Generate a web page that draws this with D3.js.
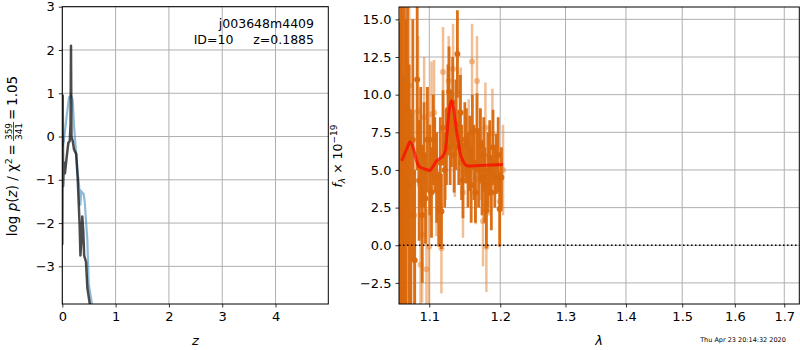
<!DOCTYPE html>
<html>
<head>
<meta charset="utf-8">
<script src="https://cdn.jsdelivr.net/npm/d3@7"></script>
<style>
  body { margin: 0; background: white; }
  svg text { font-family: "DejaVu Sans", sans-serif; fill: #000; }
</style>
</head>
<body>
<div id="chart"></div>
<script>
// p(z) panel
const pzGrid = [0.0, 0.008, 0.015, 0.03, 0.05, 0.08, 0.113, 0.14, 0.155, 0.163, 0.172, 0.195, 0.22, 0.26, 0.288, 0.325, 0.34, 0.357, 0.375, 0.394, 0.41, 0.445, 0.47, 0.52];
const pzChi = [-2.5, 0.95, -1.15, -0.6, -0.85, -0.5, -0.15, -0.1, 0.3, 2.1, 0.0, -0.1, -0.3, -0.4, -0.95, -2.05, -2.75, -2.4, -1.85, -2.2, -2.75, -2.9, -3.5, -3.9];
const pzBlueZ = [0.0, 0.03, 0.08, 0.125, 0.163, 0.195, 0.22, 0.245, 0.29, 0.313, 0.338, 0.356, 0.4, 0.42, 0.445, 0.47, 0.495, 0.56];
const pzBlue = [-0.25, -0.1, 0.45, 0.9, 0.95, 0.85, 0.25, -0.15, -0.85, -1.1, -1.6, -1.27, -1.33, -1.5, -1.95, -2.4, -3.4, -3.9];
const zTicks = [0, 1, 2, 3, 4];
const logpTicks = [-3, -2, -1, 0, 1, 2, 3];

// spectrum panel: dark series
const darkLam = [1.0612, 1.0625, 1.0640, 1.0654, 1.0670, 1.0690, 1.0710, 1.0732, 1.0755, 1.0780, 1.0805, 1.0838, 1.0864, 1.0885, 1.0905, 1.0930, 1.0949, 1.0975, 1.1007, 1.1030, 1.1055, 1.1074, 1.1100, 1.1128, 1.1150, 1.1165, 1.1187, 1.1210, 1.1234, 1.1255, 1.1270, 1.1285, 1.1303, 1.1320, 1.1340, 1.1365, 1.1386, 1.1405, 1.1428, 1.1445, 1.1464, 1.1490, 1.1512, 1.1535, 1.1559, 1.1580, 1.1597, 1.1620, 1.1640, 1.1663, 1.1685, 1.1711, 1.1735, 1.1760, 1.1774, 1.1798, 1.1820, 1.1846, 1.1870, 1.1894, 1.1920, 1.1943, 1.1970, 1.1992, 1.2017];
const darkFlux = [0.8, 5.0, 4.5, 0.3, 6.0, 3.0, 9.0, 4.0, 2.0, 7.0, -1.0, 11.0, 4.3, 6.5, 2.0, 6.0, 3.1, 7.0, 5.0, 3.5, 7.0, 6.0, 4.5, 2.4, 5.5, 2.25, 7.8, 5.0, 6.5, 9.0, 10.2, 6.5, 7.7, 9.5, 6.0, 8.0, 12.7, 6.5, 8.8, 5.5, 4.3, 7.0, 6.6, 5.0, 6.1, 4.0, 7.5, 5.5, 3.5, 7.6, 5.0, 6.6, 4.5, 6.0, 4.0, 2.3, 5.0, 5.8, 3.5, 6.5, 4.5, 5.4, 6.0, 2.4, 4.5];
const darkErr = [14, 12, 13, 11, 10, 12, 9, 8, 7, 8, 6, 6, 4, 4, 4.5, 3.5, 3, 3.5, 3, 3, 3, 2.5, 3, 2.5, 3, 2.5, 2.5, 2.5, 2.5, 3, 3, 2.5, 2.5, 3, 2.5, 3, 2.9, 2.5, 2.5, 2.5, 2.5, 2.5, 2.5, 2.5, 2.5, 2.5, 2.5, 2.5, 2, 2.5, 2.5, 2.5, 2.5, 2.5, 2.5, 2.5, 2.5, 2.5, 2.5, 2.5, 2, 2, 2.5, 2.5, 2];

// spectrum panel: light series
const lightLam = [1.0625, 1.0660, 1.0700, 1.0732, 1.0800, 1.0851, 1.0883, 1.0904, 1.0931, 1.0962, 1.0997, 1.1030, 1.1065, 1.1097, 1.1165, 1.1187, 1.1224, 1.1265, 1.1325, 1.1349, 1.1386, 1.1432, 1.1464, 1.1545, 1.1592, 1.1644, 1.1663, 1.1716, 1.1749, 1.1784, 1.1798, 1.1836, 1.1885, 1.1992, 1.2041];
const lightFlux = [-3.0, -3.0, 3.0, 10.6, 2.0, 8.9, -1.3, 0.7, 8.5, -1.6, -0.1, 8.7, 8.8, 3.6, -0.2, 11.5, 6.0, 10.9, 11.7, 6.2, 10.1, 8.8, 3.5, 6.7, 12.2, 4.4, 10.9, 6.0, 1.6, 7.8, -0.1, 5.0, 7.4, 2.9, 5.0];
const lightErr = [10, 9, 8, 6, 7, 5, 4, 4.5, 4, 4, 4, 3.5, 3.5, 3, 3, 3, 3, 3, 3, 3, 3, 3, 3, 3, 2.5, 3, 3, 3, 3, 3, 3, 3, 3, 2.5, 3];

// template model
const modelLam = [1.0634, 1.0700, 1.0742, 1.0790, 1.0830, 1.0870, 1.0917, 1.1007, 1.1060, 1.1097, 1.1179, 1.1220, 1.1242, 1.1270, 1.1303, 1.1330, 1.1349, 1.1394, 1.1430, 1.1464, 1.1535, 1.1701, 1.2041];
const modelFlux = [5.6, 6.4, 6.85, 6.4, 5.6, 5.2, 5.1, 4.97, 5.3, 5.6, 5.9, 6.3, 7.4, 8.9, 9.6, 9.2, 8.5, 7.0, 6.0, 5.6, 5.26, 5.3, 5.37];

const lamTicks = [1.1, 1.2, 1.3, 1.4, 1.5, 1.6, 1.7];
const fluxTicks = [-2.5, 0, 2.5, 5, 7.5, 10, 12.5, 15];

const W = 800, H = 350;
const svg = d3.select("#chart").append("svg").attr("width", W).attr("height", H);
const fmtMinus = s => s.replace("-", "\u2212");

const setupPanel = (box, x, y, xTicks, yTicks, xFmt, yFmt, id) => {
    const g = svg.append("g");
    g.append("clipPath").attr("id", id).append("rect")
        .attr("x", box.l).attr("y", box.t).attr("width", box.r - box.l).attr("height", box.b - box.t);

    // grid
    g.selectAll(".vg").data(xTicks).join("line")
        .attr("x1", d => x(d)).attr("x2", d => x(d)).attr("y1", box.t).attr("y2", box.b)
        .attr("stroke", "#b0b0b0").attr("stroke-width", 1);
    g.selectAll(".hg").data(yTicks).join("line")
        .attr("x1", box.l).attr("x2", box.r).attr("y1", d => y(d)).attr("y2", d => y(d))
        .attr("stroke", "#b0b0b0").attr("stroke-width", 1);

    const xAxisGroup = svg.append("g").attr("class", "axis")
        .attr("transform", `translate(0,${box.b})`)
        .call(d3.axisBottom(x).tickValues(xTicks).tickFormat(xFmt).tickSize(3.5).tickPadding(4));
    const yAxisGroup = svg.append("g").attr("class", "axis")
        .attr("transform", `translate(${box.l},0)`)
        .call(d3.axisLeft(y).tickValues(yTicks).tickFormat(yFmt).tickSize(3.5).tickPadding(4));
    [xAxisGroup, yAxisGroup].forEach(a => {
        a.select(".domain").remove();
        a.selectAll("line").attr("stroke", "black").attr("stroke-width", 0.8);
        a.selectAll("text").style("font-size", "13px").style("font-family", "DejaVu Sans").attr("fill", "black");
    });
    return g.append("g").attr("clip-path", `url(#${id})`);
};

const drawFrame = box => {
    svg.append("rect").attr("x", box.l).attr("y", box.t)
        .attr("width", box.r - box.l).attr("height", box.b - box.t)
        .attr("fill", "none").attr("stroke", "black").attr("stroke-width", 1);
};

// ---------- left panel ----------
const boxL = { l: 62.3, r: 328.3, t: 6.7, b: 304 };
const xz = d3.scaleLinear().domain([0, 4.99]).range([boxL.l, boxL.r]);
const yp = d3.scaleLinear().domain([-3.87, 3]).range([boxL.b, boxL.t]);
const plotL = setupPanel(boxL, xz, yp, zTicks, logpTicks, d => String(d), d => fmtMinus(String(d)), "clipL");

const lineZ = d3.line().x(d => xz(d[0])).y(d => yp(d[1]));
plotL.append("path").datum(pzBlueZ.map((z, i) => [z, pzBlue[i]]))
    .attr("fill", "none").attr("stroke", "#1f77b4").attr("stroke-opacity", 0.5)
    .attr("stroke-width", 2.2).attr("d", lineZ);
plotL.append("path").datum(pzGrid.map((z, i) => [z, pzChi[i]]))
    .attr("fill", "none").attr("stroke", "black").attr("stroke-opacity", 0.7)
    .attr("stroke-width", 2.5).attr("stroke-linejoin", "round").attr("d", lineZ);
drawFrame(boxL);

svg.append("text").attr("x", 314).attr("y", 28).attr("text-anchor", "end")
    .style("font-size", "12.5px").text("j003648m4409");
svg.append("text").attr("x", 314).attr("y", 44).attr("text-anchor", "end")
    .style("font-size", "12.5px").attr("xml:space", "preserve").text("ID=10     z=0.1885");

svg.append("text").attr("x", (boxL.l + boxL.r) / 2).attr("y", 345).attr("text-anchor", "middle")
    .style("font-size", "13px").style("font-style", "italic").text("z");

// rotated y label with a fraction
const yl = svg.append("g").attr("transform", "translate(17,156) rotate(-90)");
const p1 = yl.append("text").attr("x", 0).attr("y", 0).style("font-size", "13.5px");
p1.append("tspan").text("log ");
p1.append("tspan").style("font-style", "italic").text("p");
p1.append("tspan").text("(");
p1.append("tspan").style("font-style", "italic").text("z");
p1.append("tspan").text(") / \u03c7");
p1.append("tspan").attr("dy", -5).style("font-size", "9.5px").text("2");
p1.append("tspan").attr("dy", 5).text("\u2009=");
const w1 = p1.node().getComputedTextLength() + 3;
const num = yl.append("text").attr("y", -5).attr("text-anchor", "middle").style("font-size", "9px").text("359");
const den = yl.append("text").attr("y", 5).attr("text-anchor", "middle").style("font-size", "9px").text("341");
const wf = Math.max(num.node().getComputedTextLength(), den.node().getComputedTextLength()) + 2;
const p3 = yl.append("text").attr("y", 0).style("font-size", "13.5px").text("=\u20091.05");
const w3 = p3.node().getComputedTextLength() + 2;
const total = w1 + wf + w3;
const x0 = -total / 2;
p1.attr("x", x0);
num.attr("x", x0 + w1 + wf / 2);
den.attr("x", x0 + w1 + wf / 2);
yl.append("line").attr("x1", x0 + w1).attr("x2", x0 + w1 + wf).attr("y1", -3.5).attr("y2", -3.5)
    .attr("stroke", "black").attr("stroke-width", 0.7);
p3.attr("x", x0 + w1 + wf + 2);

// ---------- right panel ----------
const boxR = { l: 399, r: 799.3, t: 7, b: 304 };
const xl = d3.scaleLog().domain([1.0599, 1.7316]).range([boxR.l, boxR.r]);
const yf = d3.scaleLinear().domain([-3.9, 15.82]).range([boxR.b, boxR.t]);
const plotR = setupPanel(boxR, xl, yf, lamTicks, fluxTicks, d => d.toFixed(1), d => fmtMinus(d.toFixed(1)), "clipR");

const orange = "#d9680c";
const lightData = lightLam.map((l, i) => ({ l, f: lightFlux[i], e: lightErr[i] }));
const darkData = darkLam.map((l, i) => ({ l, f: darkFlux[i], e: darkErr[i] }));

plotR.selectAll(".lbar").data(lightData).join("line")
    .attr("x1", d => xl(d.l)).attr("x2", d => xl(d.l))
    .attr("y1", d => yf(d.f - d.e)).attr("y2", d => yf(d.f + d.e))
    .attr("stroke", "#e8883a").attr("stroke-opacity", 0.55).attr("stroke-width", 2.5);
plotR.selectAll(".lpt").data(lightData).join("circle")
    .attr("cx", d => xl(d.l)).attr("cy", d => yf(d.f)).attr("r", 3)
    .attr("fill", "#e8883a").attr("fill-opacity", 0.55);
plotR.selectAll(".dbar").data(darkData).join("line")
    .attr("x1", d => xl(d.l)).attr("x2", d => xl(d.l))
    .attr("y1", d => yf(d.f - d.e)).attr("y2", d => yf(d.f + d.e))
    .attr("stroke", orange).attr("stroke-opacity", 0.95).attr("stroke-width", 2.8);
plotR.selectAll(".dpt").data(darkData).join("circle")
    .attr("cx", d => xl(d.l)).attr("cy", d => yf(d.f)).attr("r", 3)
    .attr("fill", orange).attr("fill-opacity", 0.95);

plotR.append("path").datum(modelLam.map((l, i) => [l, modelFlux[i]]))
    .attr("fill", "none").attr("stroke", "red").attr("stroke-opacity", 0.7)
    .attr("stroke-width", 3).attr("stroke-linejoin", "round")
    .attr("d", d3.line().x(d => xl(d[0])).y(d => yf(d[1])).curve(d3.curveMonotoneX));

plotR.append("line").attr("x1", boxR.l).attr("x2", boxR.r).attr("y1", yf(0)).attr("y2", yf(0))
    .attr("stroke", "black").attr("stroke-width", 1.5).attr("stroke-dasharray", "1.5,2.5");
drawFrame(boxR);

svg.append("text").attr("x", (boxR.l + boxR.r) / 2).attr("y", 345).attr("text-anchor", "middle")
    .style("font-size", "13px").style("font-style", "italic").text("\u03bb");

const yr = svg.append("text").attr("transform", "translate(342,156) rotate(-90)")
    .attr("text-anchor", "middle").style("font-size", "12.5px");
yr.append("tspan").style("font-style", "italic").text("f");
yr.append("tspan").attr("dy", 3).style("font-size", "9px").style("font-style", "italic").text("\u03bb");
yr.append("tspan").attr("dy", -3).text(" \u00d7 10");
yr.append("tspan").attr("dy", -5).style("font-size", "9px").text("\u221219");

svg.append("text").attr("x", 743).attr("y", 342).attr("text-anchor", "middle")
    .style("font-size", "6.5px").text("Thu Apr 23 20:14:32 2020");
</script>
</body>
</html>
